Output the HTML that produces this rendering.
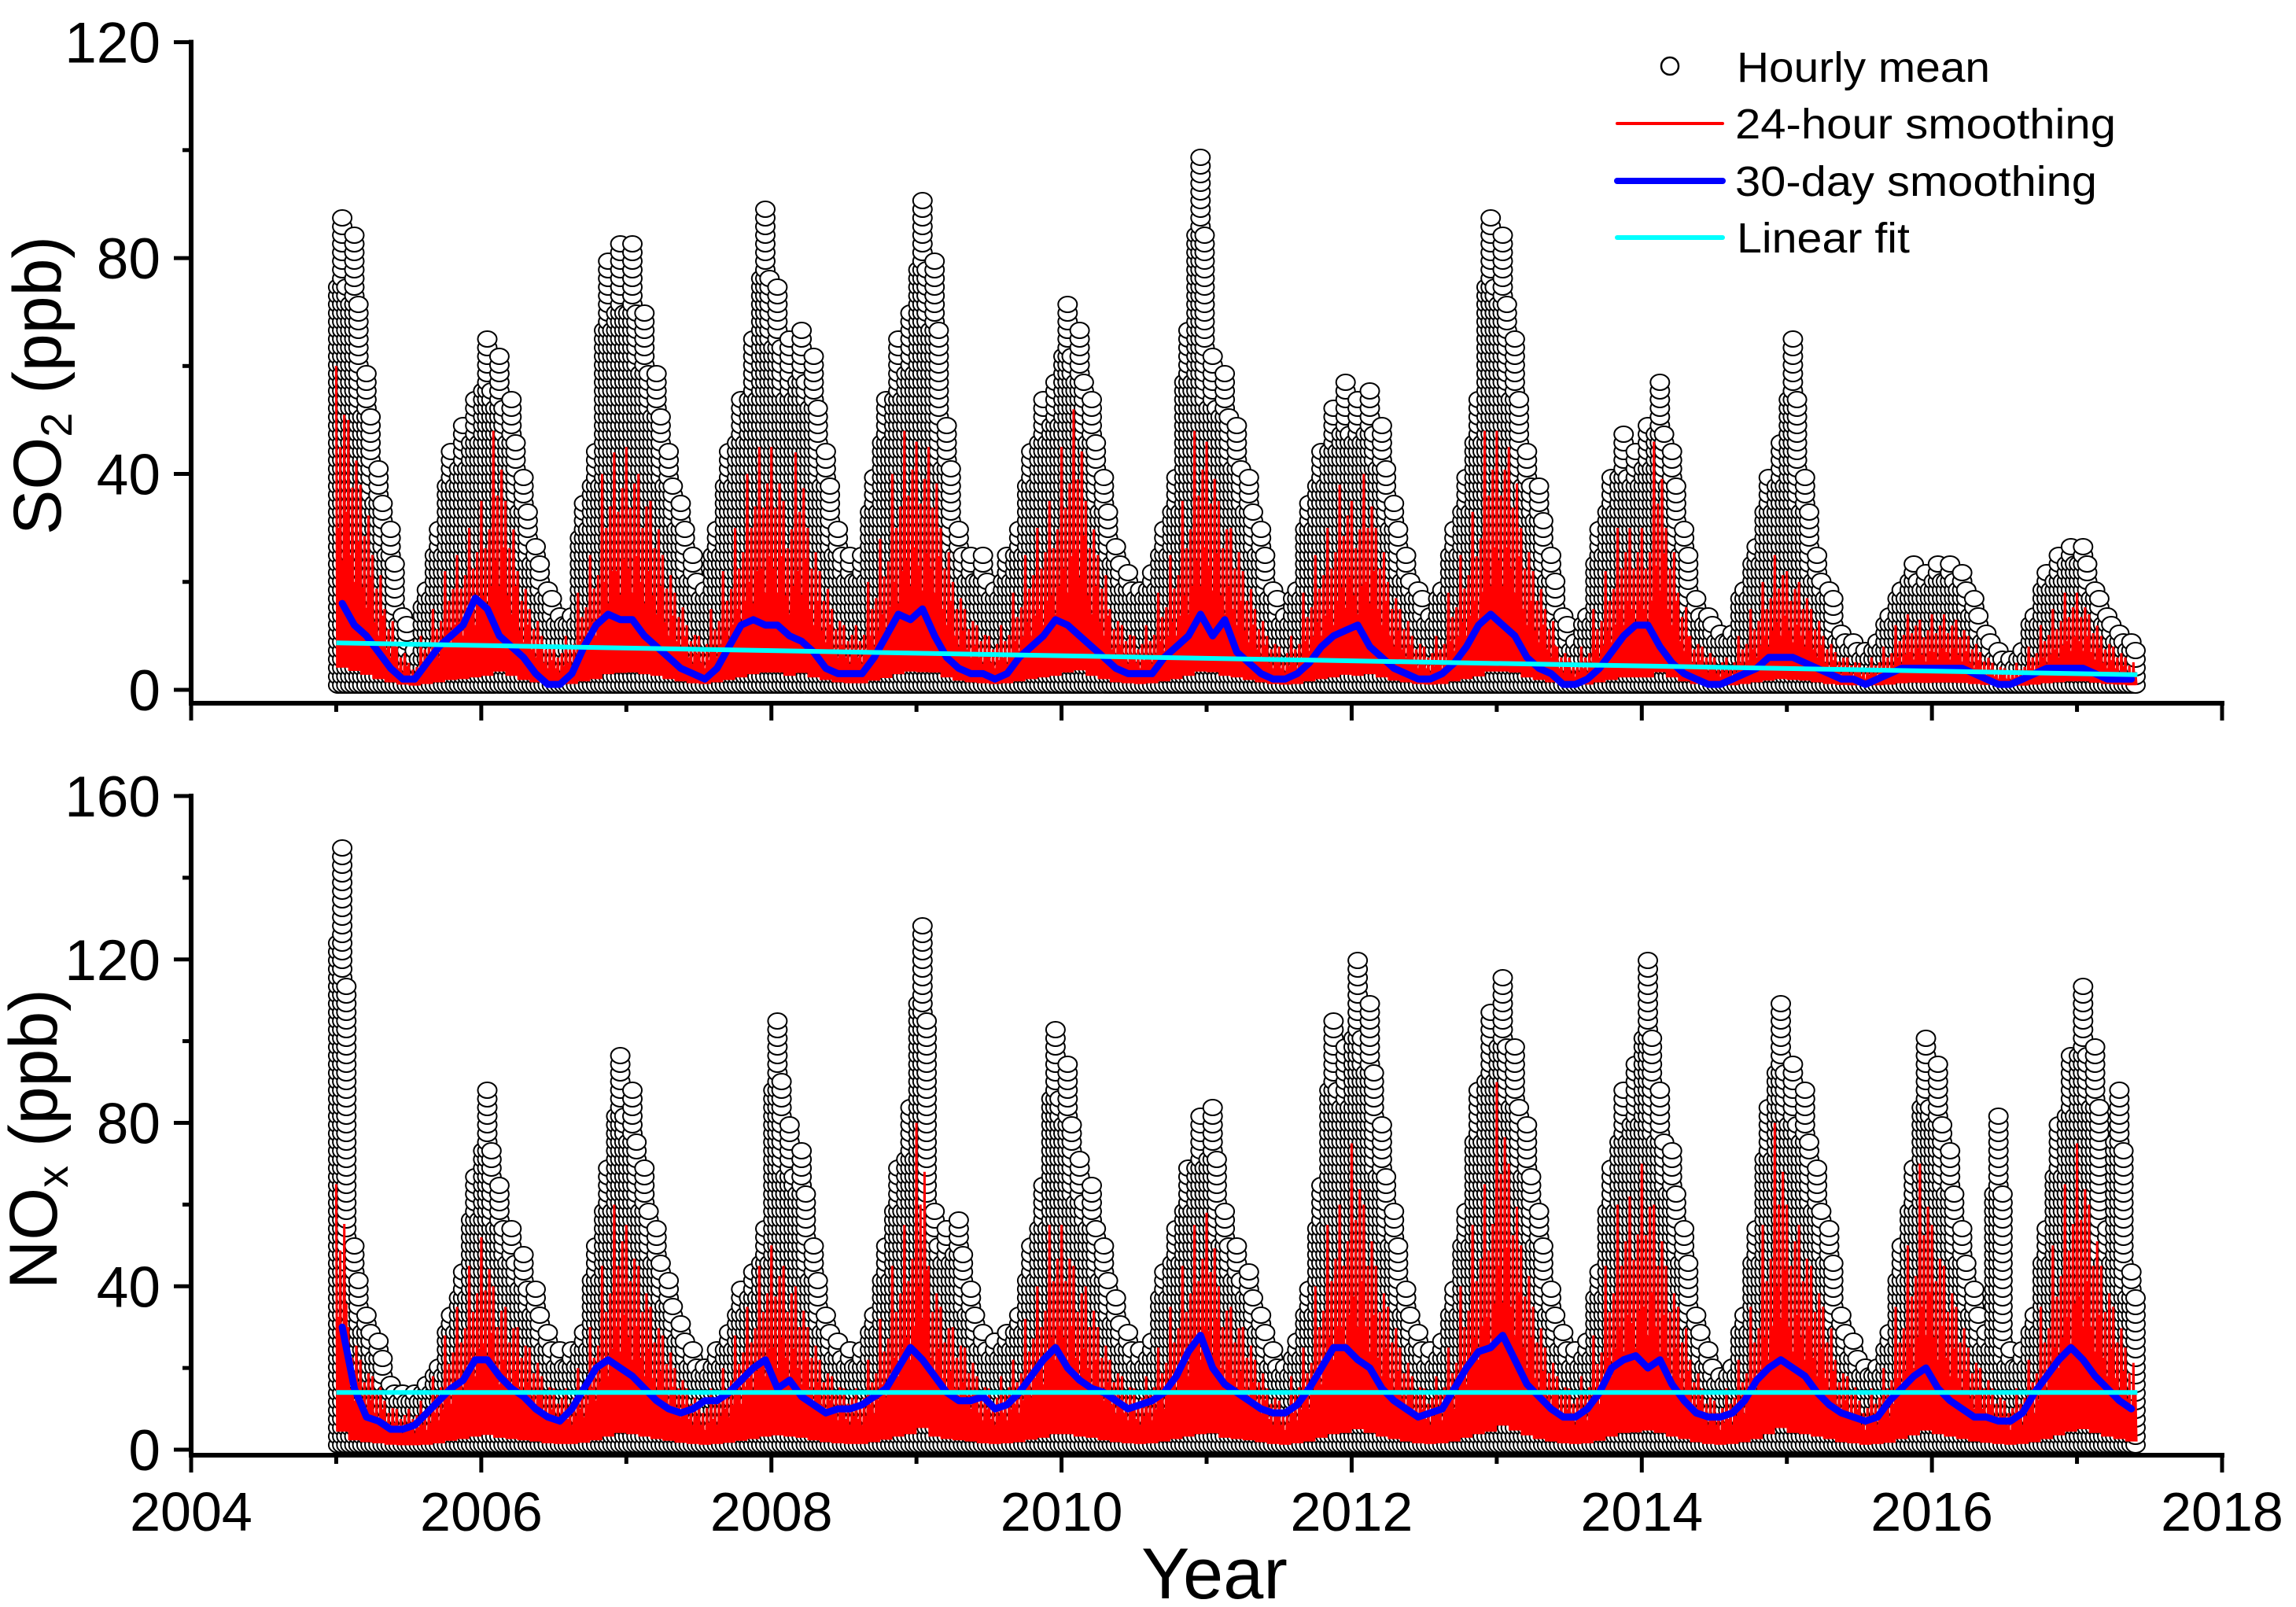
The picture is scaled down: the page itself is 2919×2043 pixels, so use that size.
<!DOCTYPE html>
<html><head><meta charset="utf-8"><title>SO2 and NOx time series</title>
<style>
html,body{margin:0;padding:0;background:#fff;}
svg{display:block;font-family:"Liberation Sans",sans-serif;}
</style></head>
<body>
<svg id="chart" width="2919" height="2043" viewBox="0 0 2919 2043" xmlns="http://www.w3.org/2000/svg">
<rect width="2919" height="2043" fill="#fff"/>
<g id="top-panel"></g>
<g id="bot-panel"></g>
<g id="axes"></g>
<text x="77" y="490" font-size="86" text-anchor="middle" transform="rotate(-90 77 490)">SO<tspan font-size="56" dy="14">2</tspan><tspan dy="-14"> (ppb)</tspan></text>
<text x="72" y="1448" font-size="86" text-anchor="middle" transform="rotate(-90 72 1448)">NO<tspan font-size="56" dy="14">x</tspan><tspan dy="-14"> (ppb)</tspan></text>
<text x="1544" y="2032" font-size="92" text-anchor="middle">Year</text>
<g id="legend">
  <g>
    <ellipse cx="2123" cy="84" rx="11" ry="11" fill="#fff" stroke="#000" stroke-width="2.5"/>
    <text x="2208" y="104" font-size="54" font-family="Liberation Sans Narrow, Liberation Sans, sans-serif" textLength="322" lengthAdjust="spacingAndGlyphs">Hourly mean</text>
  </g>
  <g>
    <line x1="2056" y1="157" x2="2190" y2="157" stroke="#ff0000" stroke-width="4" stroke-linecap="round"/>
    <text x="2206" y="176" font-size="54" font-family="Liberation Sans Narrow, Liberation Sans, sans-serif" textLength="484" lengthAdjust="spacingAndGlyphs">24-hour smoothing</text>
  </g>
  <g>
    <line x1="2056" y1="230" x2="2190" y2="230" stroke="#0000ff" stroke-width="8" stroke-linecap="round"/>
    <text x="2206" y="249" font-size="54" font-family="Liberation Sans Narrow, Liberation Sans, sans-serif" textLength="460" lengthAdjust="spacingAndGlyphs">30-day smoothing</text>
  </g>
  <g>
    <line x1="2056" y1="302" x2="2190" y2="302" stroke="#00ffff" stroke-width="6" stroke-linecap="round"/>
    <text x="2208" y="321" font-size="54" font-family="Liberation Sans Narrow, Liberation Sans, sans-serif" textLength="220" lengthAdjust="spacingAndGlyphs">Linear fit</text>
  </g>
</g>
</svg>
<script>
// ---- data (monthly, Jan 2005 .. May 2017) ----
const startYear = 2005;
const so2HourlyMax = [
88,85,60,42,30,15,8,20,30,45,50,55,
66,62,55,40,28,20,15,15,35,45,80,83,
84,70,60,45,35,25,20,30,45,55,65,90,
75,65,68,62,45,30,25,25,40,55,65,70,
92,80,50,30,25,25,20,25,30,45,55,58,
73,68,55,40,28,22,20,22,30,40,68,100,
62,60,50,40,30,20,15,20,35,45,53,57,
55,56,50,35,25,20,15,20,30,40,55,88,
85,65,45,38,25,15,10,15,30,40,48,45,
50,57,45,30,18,15,12,12,20,28,40,46,
65,40,25,20,12,10,8,10,15,20,24,22,
24,24,23,18,12,8,6,8,15,22,25,28,
28,20,15,12,10];
const so2Daily = [
60,50,38,25,15,8,5,10,15,22,25,30,
35,48,35,22,15,10,8,10,18,25,40,44,
45,40,35,25,18,12,10,15,22,30,40,45,
45,35,44,30,22,15,12,12,20,28,40,48,
46,45,30,20,15,12,10,12,18,25,30,35,
45,52,35,25,15,12,10,12,18,25,35,48,
46,35,30,22,15,10,8,10,18,25,30,38,
35,40,30,20,15,10,8,10,18,25,33,48,
48,45,30,22,15,8,6,8,15,22,30,30,
30,46,30,18,10,8,6,6,10,15,20,25,
22,20,15,10,7,6,5,6,8,12,14,13,
14,14,13,10,7,5,4,5,8,12,15,18,
18,14,10,8,6];
const so2Monthly = [
16,12,10,7,4,2,2,5,8,10,12,17,
15,10,8,6,3,1,1,3,8,12,14,13,
13,10,8,6,4,3,2,4,8,12,13,12,
12,10,9,7,4,3,3,3,6,10,14,13,
15,10,6,4,3,3,2,3,6,8,10,13,
12,10,8,6,4,3,3,3,6,8,10,14,
10,13,7,5,3,2,2,3,5,8,10,11,
12,8,6,4,3,2,2,3,5,8,12,14,
12,10,6,4,3,1,1,2,4,7,10,12,
12,8,5,3,2,1,1,2,3,4,6,6,
6,5,4,3,2,2,1,2,3,4,4,4,
4,4,4,3,2,1,1,2,3,4,4,4,
4,3,2,2,2];
const so2Fit = [8.7, 2.8];

const noxHourlyMax = [
148,50,35,28,18,15,15,18,22,35,45,68,
88,65,55,48,40,30,25,25,30,50,70,97,
90,70,55,42,32,25,22,25,30,40,45,55,
107,80,75,50,35,28,25,25,35,50,70,85,
130,60,55,58,40,30,28,30,35,50,65,103,
95,72,65,50,38,30,25,28,45,55,70,83,
85,60,50,45,35,25,22,28,40,65,105,100,
120,110,80,60,40,30,25,28,40,60,90,108,
116,100,80,60,40,30,25,28,45,70,90,95,
120,90,75,55,35,25,20,22,35,55,85,110,
95,90,70,55,35,28,22,22,30,50,70,101,
96,75,55,40,30,82,25,25,35,55,80,97,
114,100,55,90,45];
const noxDaily = [
65,30,22,18,12,10,10,12,18,28,35,45,
52,40,35,30,25,18,15,15,20,30,45,60,
55,45,35,28,20,15,12,15,20,28,35,45,
50,45,40,30,22,18,15,15,22,32,45,55,
80,45,35,30,25,18,15,18,22,32,40,55,
55,45,40,30,22,18,15,18,25,35,45,55,
58,40,35,30,22,15,12,18,25,40,55,60,
75,60,45,35,25,18,15,18,25,40,55,65,
90,70,50,35,25,18,15,18,28,45,60,62,
70,60,45,35,22,15,12,15,22,35,55,80,
60,55,45,35,22,18,12,15,20,35,50,70,
55,45,35,25,20,15,12,15,22,35,50,65,
75,60,45,35,25];
const noxMonthly = [
30,15,8,7,5,5,6,9,12,15,17,22,
22,18,15,13,10,8,7,10,15,20,22,20,
18,15,12,10,9,10,12,12,14,17,20,22,
15,17,13,11,9,10,10,11,13,15,20,25,
22,18,14,12,12,13,10,11,14,18,22,25,
20,17,15,14,12,10,11,12,14,18,24,28,
20,16,14,12,10,9,9,11,15,20,25,25,
22,20,15,12,10,8,9,10,15,20,24,25,
28,22,16,13,10,8,8,10,14,20,22,23,
20,22,16,12,9,8,8,9,12,17,20,22,
20,18,14,11,9,8,7,8,12,15,18,20,
15,12,10,8,8,7,7,9,14,18,22,25,
22,18,15,12,10];
const noxFit = [14, 14];

const xTicks = [2004,2006,2008,2010,2012,2014,2016,2018];
const so2Ticks = [0,40,80,120];
const noxTicks = [0,40,80,120,160];

// ---- scales ----
const NS = "http://www.w3.org/2000/svg";
const X0 = 243, X1 = 2825;
function xs(yr){ return X0 + (yr-2004)*(X1-X0)/14; }
const topY = v => 877 - v*(877-53.6)/120;
const botY = v => 1843 - v*(1843-1012)/160;

function mk(tag, attrs, parent){
  const e = document.createElementNS(NS, tag);
  for (const k in attrs) e.setAttribute(k, attrs[k]);
  parent.appendChild(e);
  return e;
}

function drawPanel(g, ys, hourly, daily, monthly, fit, key){
  const n = hourly.length;
  // hourly circles
  const cg = mk('g', {fill:'#fff', stroke:'#000', 'stroke-width':'2'}, g);
  
  
  const base = ys(0);
  for (let i=0;i<n;i++){
    for (let s=-1;s<=1;s++){
      const j = i + s*0.34;
      let v;
      if (s<0 && i>0) v = hourly[i] + (hourly[i-1]-hourly[i])*0.34;
      else if (s>0 && i<n-1) v = hourly[i] + (hourly[i+1]-hourly[i])*0.34;
      else v = hourly[i];
      if (s!==0) v = Math.min(v, hourly[i]*0.85);
      const cx = xs(startYear + (j+0.5)/12);
      const topPx = ys(v);
      for (let y = base - 6; y >= topPx; y -= 11){
        const c = document.createElementNS(NS,'ellipse');
        c.setAttribute('cx', cx.toFixed(1));
        c.setAttribute('cy', y.toFixed(1));
        c.setAttribute('rx', '12');
        c.setAttribute('ry', '10');
        
        
        cg.appendChild(c);
      }
    }
  }
  // 24h smoothing zigzag
  const pat = [1,0.5,0.75,0.4,0.85,0.55];
  let d = '';
  for (let i=0;i<n;i++){
    for (let k=0;k<6;k++){
      const t = startYear + (i + k/6)/12;
      const hi = daily[i]*pat[k];
      const lo = daily[i]*0.06 + 0.5;
      d += (d ? 'L' : 'M') + xs(t).toFixed(1) + ',' + ys(hi).toFixed(1);
      d += 'L' + xs(t + 1/144).toFixed(1) + ',' + ys(lo).toFixed(1);
    }
  }
  const rp = mk('path', {d:d, fill:'none', stroke:'#ff0000', 'stroke-width':'3'}, g);
  
  
  // 30-day smoothing
  let pts = [];
  for (let i=0;i<n;i++) pts.push(xs(startYear + (i+0.5)/12).toFixed(1) + ',' + ys(monthly[i]).toFixed(1));
  const bl = mk('polyline', {points:pts.join(' '), fill:'none', stroke:'#0000ff', 'stroke-width':'9', 'stroke-linejoin':'round', 'stroke-linecap':'round'}, g);
  
  
  // linear fit
  const endYr = startYear + n/12;
  const fl = mk('line', {x1:xs(startYear), y1:ys(fit[0]), x2:xs(endYr), y2:ys(fit[1]), stroke:'#00ffff', 'stroke-width':'6'}, g);
  
  
}

drawPanel(document.getElementById('top-panel'), topY, so2HourlyMax, so2Daily, so2Monthly, so2Fit, 'so2');
drawPanel(document.getElementById('bot-panel'), botY, noxHourlyMax, noxDaily, noxMonthly, noxFit, 'nox');

// ---- axes ----
const ax = document.getElementById('axes');
function drawAxes(ys, ticks, yTop, xAxisY, labelsX, key){
  const yl = mk('line', {x1:X0, y1:yTop-3, x2:X0, y2:xAxisY+3, stroke:'#000', 'stroke-width':'6'}, ax);
  
  
  const xl = mk('line', {x1:X0-3, y1:xAxisY, x2:X1+3, y2:xAxisY, stroke:'#000', 'stroke-width':'6'}, ax);
  
  
  const maxT = ticks[ticks.length-1];
  for (let v=0; v<=maxT; v+= (ticks[1]-ticks[0])/2){
    const major = ticks.indexOf(v) >= 0;
    const t = mk('line', {x1:X0 - (major?22:11), y1:ys(v), x2:X0, y2:ys(v), stroke:'#000', 'stroke-width':'5'}, ax);
    
    
    if (major){
      const tx = mk('text', {x:204, y:(ys(v)+26).toFixed(1), 'font-size':'73', 'text-anchor':'end'}, ax);
      tx.textContent = String(v);
      
      
    }
  }
  for (let yr=2004; yr<=2018; yr++){
    const major = xTicks.indexOf(yr) >= 0;
    const t = mk('line', {x1:xs(yr), y1:xAxisY, x2:xs(yr), y2:xAxisY + (major?22:11), stroke:'#000', 'stroke-width':'5'}, ax);
    
    
    if (labelsX && major){
      const tx = mk('text', {x:xs(yr).toFixed(1), y:1946, 'font-size':'70', 'text-anchor':'middle'}, ax);
      tx.textContent = String(yr);
      
      
    }
  }
}
drawAxes(topY, so2Ticks, 53.6, 894, false, 'so2');
drawAxes(botY, noxTicks, 1012, 1850, true, 'nox');
</script>
</body></html>
